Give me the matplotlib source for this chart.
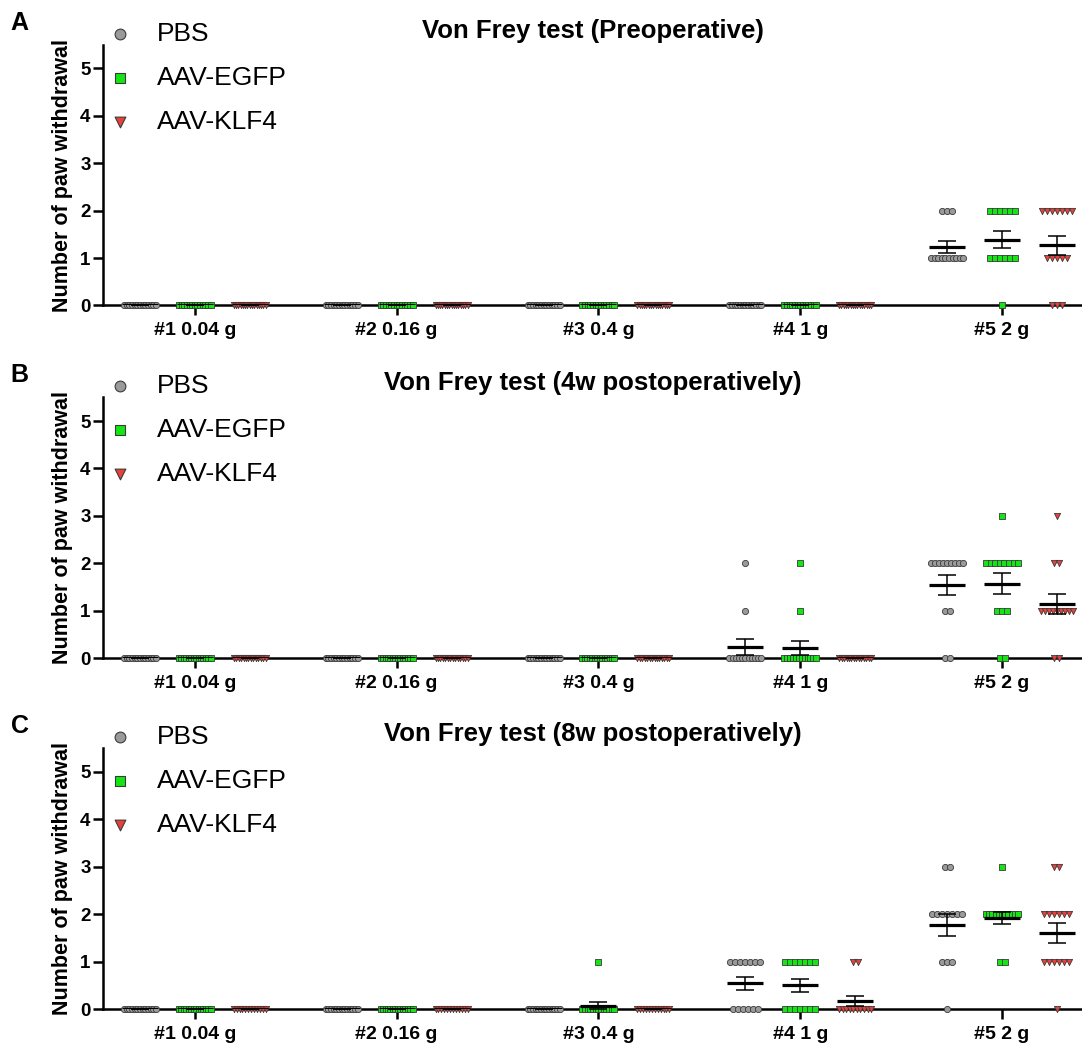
import numpy as np
import matplotlib
matplotlib.use('Agg')
import matplotlib.pyplot as plt

plt.rcParams['font.family'] = ['Liberation Sans', 'DejaVu Sans']

forces = ['#1 0.04 g', '#2 0.16 g', '#3 0.4 g', '#4 1 g', '#5 2 g']
groups = ['PBS', 'AAV-EGFP', 'AAV-KLF4']
titles = ['Von Frey test (Preoperative)',
          'Von Frey test (4w postoperatively)',
          'Von Frey test (8w postoperatively)']
letters = ['A', 'B', 'C']

# number of animals with 0, 1, 2, 3 withdrawals, for each filament #1..#5
pre_pbs = [[13, 0, 0, 0], [13, 0, 0, 0], [13, 0, 0, 0], [13, 0, 0, 0], [0, 10, 3, 0]]
pre_egfp = [[13, 0, 0, 0], [13, 0, 0, 0], [13, 0, 0, 0], [13, 0, 0, 0], [1, 6, 6, 0]]
pre_klf4 = [[15, 0, 0, 0], [15, 0, 0, 0], [15, 0, 0, 0], [15, 0, 0, 0], [3, 5, 7, 0]]

w4_pbs = [[13, 0, 0, 0], [13, 0, 0, 0], [13, 0, 0, 0], [11, 1, 1, 0], [2, 2, 9, 0]]
w4_egfp = [[14, 0, 0, 0], [14, 0, 0, 0], [14, 0, 0, 0], [12, 1, 1, 0], [2, 3, 8, 1]]
w4_klf4 = [[14, 0, 0, 0], [14, 0, 0, 0], [14, 0, 0, 0], [14, 0, 0, 0], [2, 9, 2, 1]]

w8_pbs = [[13, 0, 0, 0], [13, 0, 0, 0], [13, 0, 0, 0], [6, 7, 0, 0], [1, 3, 7, 2]]
w8_egfp = [[14, 0, 0, 0], [14, 0, 0, 0], [13, 1, 0, 0], [7, 7, 0, 0], [0, 2, 11, 1]]
w8_klf4 = [[12, 0, 0, 0], [12, 0, 0, 0], [12, 0, 0, 0], [10, 2, 0, 0], [1, 6, 6, 2]]

panels = [[pre_pbs, pre_egfp, pre_klf4],
          [w4_pbs, w4_egfp, w4_klf4],
          [w8_pbs, w8_egfp, w8_klf4]]

# marker styles for the three groups
markers = ['o', 's', 'v']
faces = ['#9a9a9a', '#14e614', '#e8403a']
edge = '#3a3a3a'

px = 1.0 / 202  # one pixel in x data units
offs = [-0.272, 0.0, 0.272]


def swarm(vals):
    # spread equal values sideways like a Prism scatter dot plot
    dx = np.zeros(len(vals))
    for v in np.unique(vals):
        idx = np.where(vals == v)[0]
        k = len(idx)
        if k > 1:
            step = min(5.0, 32.0 / (k - 1))
            dx[idx] = (np.arange(k) - (k - 1) / 2) * step * px
    return dx


fig = plt.figure(figsize=(10.82, 10.48), dpi=100)
bottoms = [0.7085, 0.3721, 0.0372]
ax_h = 0.2488
ax_pix = ax_h * 1048

for p in range(3):
    ax = fig.add_axes([0.0952, bottoms[p], 0.9048, ax_h])
    for g in range(3):
        counts = panels[p][g]
        for f in range(5):
            vals = np.repeat([0, 1, 2, 3], counts[f]).astype(float)
            xc = f + offs[g]
            ax.scatter(xc + swarm(vals), vals, marker=markers[g], s=20,
                       facecolor=faces[g], edgecolor=edge, linewidths=0.6,
                       clip_on=False, zorder=3)
            m = vals.mean()
            sem = vals.std(ddof=1) / np.sqrt(len(vals))
            ax.errorbar(xc, m, yerr=sem, fmt='none', ecolor='black',
                        elinewidth=1.1, capsize=6.8, capthick=1.1, zorder=4)
            ax.hlines(m, xc - 18 * px, xc + 18 * px, color='black', lw=2.3, zorder=4)

    ax.set_xlim(-0.455, 4.396)
    ax.set_ylim(0, 5.5)
    ax.set_xticks(range(5))
    ax.set_xticklabels(forces, fontsize=14, fontweight='bold')
    ax.set_yticks(range(6))
    ax.set_yticklabels([str(i) for i in range(6)], fontsize=13.5, fontweight='bold')
    ax.tick_params(axis='both', length=7, width=1.8, direction='out')
    ax.tick_params(axis='x', pad=5)
    ax.tick_params(axis='y', pad=2)
    for s in ['top', 'right']:
        ax.spines[s].set_visible(False)
    for s in ['left', 'bottom']:
        ax.spines[s].set_linewidth(1.8)
    ax.set_ylabel('Number of paw withdrawal', fontsize=15.5, fontweight='bold', labelpad=5)

    # title and panel letter
    ax.text(0.5, 1 + 14 / ax_pix, titles[p], transform=ax.transAxes, ha='center',
            va='center', fontsize=18.5, fontweight='bold')
    ax.text(-0.085, 1 + 22 / ax_pix, letters[p], transform=ax.transAxes, ha='center',
            va='center', fontsize=18, fontweight='bold')

    # legend drawn by hand
    for g in range(3):
        y = 1 + (11 - 44 * g) / ax_pix
        ax.scatter([0.0174], [y], marker=markers[g], s=60, facecolor=faces[g],
                   edgecolor=edge, linewidths=0.8, transform=ax.transAxes, clip_on=False)
        ax.text(0.055, y, groups[g], transform=ax.transAxes, va='center', ha='left',
                fontsize=19)

fig.savefig('out.png', dpi=100)
